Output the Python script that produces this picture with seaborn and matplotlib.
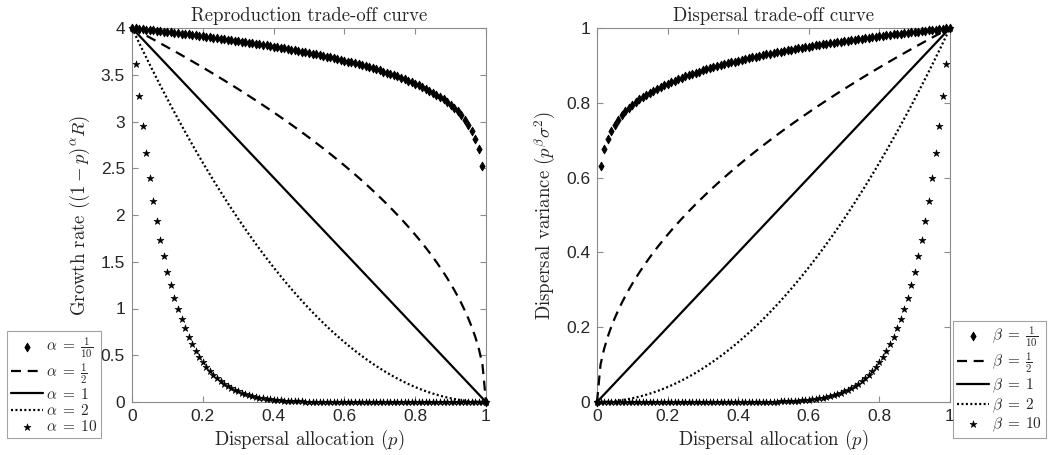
import numpy as np
import pandas as pd
import matplotlib
matplotlib.use("Agg")
import matplotlib.pyplot as plt
import seaborn as sns

# ---- data ----
R = 4.0                       # max growth rate
sigma2 = 1.0                  # max dispersal variance
p_grid = np.round(np.arange(0, 101) / 100, 2)   # sample points 0, 0.01, ..., 1
alphas = [0.1, 0.5, 1, 2, 10]
betas = [0.1, 0.5, 1, 2, 10]
exp_tex = [r"\frac{1}{10}", r"\frac{1}{2}", "1", "2", "10"]
kinds = ["diamond", "dash", "solid", "dot", "star"]
x_ticks = [0, 0.2, 0.4, 0.6, 0.8, 1]
x_tick_labels = ["0", "0.2", "0.4", "0.6", "0.8", "1"]
left_y_ticks = [0, 0.5, 1, 1.5, 2, 2.5, 3, 3.5, 4]
left_y_labels = ["0", "0.5", "1", "1.5", "2", "2.5", "3", "3.5", "4"]
right_y_ticks = [0, 0.2, 0.4, 0.6, 0.8, 1]
right_y_labels = ["0", "0.2", "0.4", "0.6", "0.8", "1"]

rows = []
for a, b, k in zip(alphas, betas, kinds):
    for p in p_grid:
        rows.append({"kind": k, "p": p,
                     "growth": (1 - p) ** a * R,
                     "variance": p ** b * sigma2})
df = pd.DataFrame(rows)

# ---- style ----
sns.set_style("ticks")
plt.rcParams["font.family"] = ["Liberation Sans", "DejaVu Sans"]
plt.rcParams["mathtext.fontset"] = "cm"

fig = plt.figure(figsize=(10.48, 4.55), dpi=100)
axL = fig.add_axes([132 / 1048, 53 / 455, 354 / 1048, 374 / 455])
axR = fig.add_axes([597 / 1048, 53 / 455, 353 / 1048, 374 / 455])

def draw(ax, ycol, sym, exps):
    for k, e in zip(kinds, exps):
        sub = df[df["kind"] == k]
        lab = r"$%s\;=\;%s$" % (sym, e)
        if k == "diamond":
            sns.scatterplot(data=sub, x="p", y=ycol, ax=ax, marker="d", s=20,
                            color="k", edgecolor="k", linewidth=0.6,
                            clip_on=False, zorder=5, label=lab)
        elif k == "star":
            sns.scatterplot(data=sub, x="p", y=ycol, ax=ax, marker="*", s=28,
                            color="k", edgecolor="k", linewidth=0.4,
                            clip_on=False, zorder=5, label=lab)
        else:
            ls = {"dash": (0, (4.5, 3.0)), "solid": "-", "dot": (0, (0.9, 1.1))}[k]
            sns.lineplot(data=sub, x="p", y=ycol, ax=ax, color="k",
                         linestyle=ls, linewidth=1.6, label=lab,
                         clip_on=False, zorder=4)

draw(axL, "growth", r"\alpha", exp_tex)
draw(axR, "variance", r"\beta", exp_tex)

cm_font = dict(fontfamily="cmr10", fontsize=13.5)

for ax, yt, yl in ((axL, left_y_ticks, left_y_labels), (axR, right_y_ticks, right_y_labels)):
    ax.set_xlim(0, 1)
    ax.set_xticks(x_ticks)
    ax.set_xticklabels(x_tick_labels)
    ax.set_yticks(yt)
    ax.set_yticklabels(yl)
    ax.set_ylim(yt[0], yt[-1])
    ax.tick_params(direction="in", top=True, right=True, length=4,
                   width=0.8, color="#8c8c8c", labelcolor="#262626",
                   labelsize=12.5, pad=5)
    for s in ax.spines.values():
        s.set_visible(True)
        s.set_color("#8c8c8c")
        s.set_linewidth(0.8)
    ax.set_xlabel(r"Dispersal allocation ($p$)", labelpad=3, **cm_font)

axL.set_title("Reproduction trade-off curve", pad=5, **cm_font)
axR.set_title("Dispersal trade-off curve", pad=5, **cm_font)
axL.set_ylabel(r"Growth rate $((1-p)^{\alpha}R)$", labelpad=6, **cm_font)
axR.set_ylabel(r"Dispersal variance $(p^{\beta}\sigma^2)$", labelpad=6, **cm_font)

for ax, anchor, loc in ((axL, (7 / 1048, 17 / 455), "lower left"),
                        (axR, (1046 / 1048, 17 / 455), "lower right")):
    h, l = ax.get_legend_handles_labels()
    if ax.get_legend() is not None:
        ax.get_legend().remove()
    leg = fig.legend(h, l, loc=loc, bbox_to_anchor=anchor,
                     frameon=True, fancybox=False, fontsize=11,
                     handlelength=2.1, handletextpad=0.2, labelspacing=0.08,
                     borderpad=0.25, borderaxespad=0, markerscale=1.0)
    leg.get_frame().set_edgecolor("#8c8c8c")
    leg.get_frame().set_linewidth(0.8)

fig.savefig("out.png", dpi=100)
